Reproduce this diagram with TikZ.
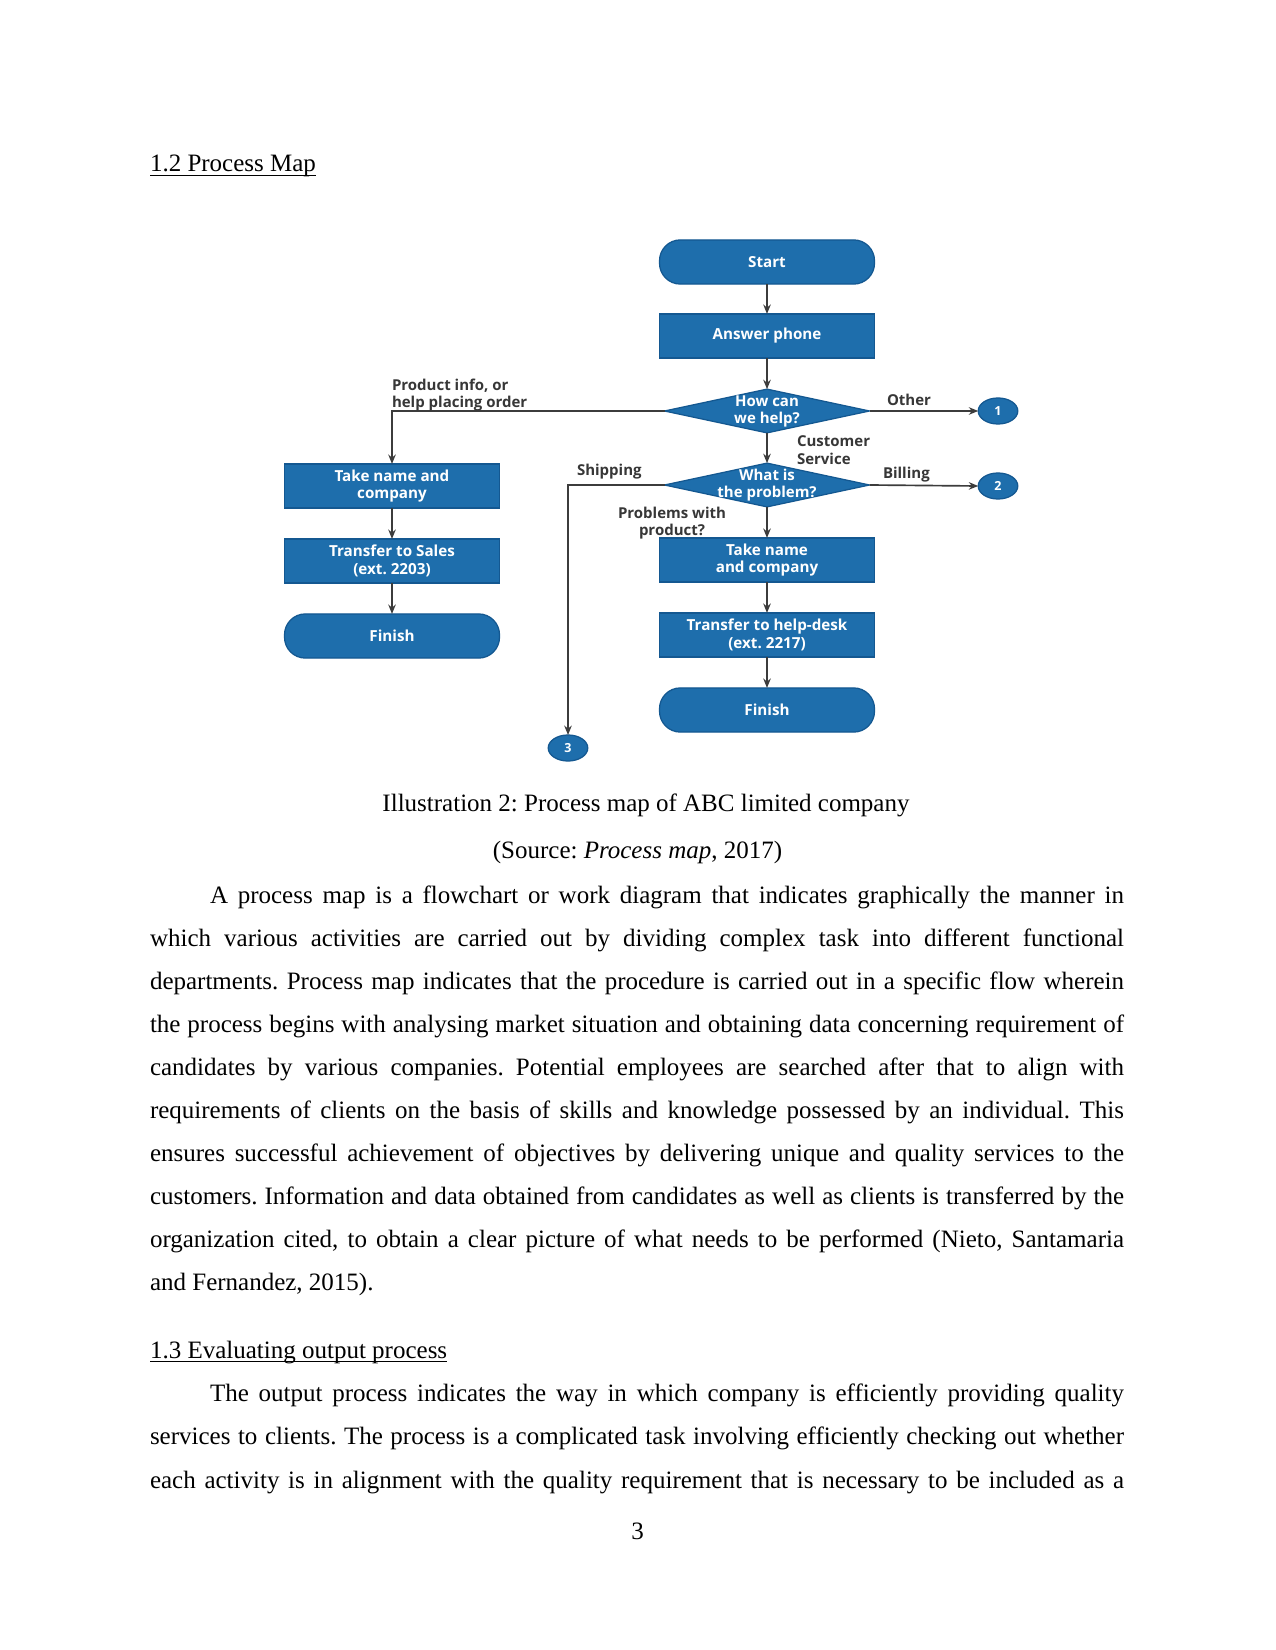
\documentclass[tikz,border=0pt]{standalone}
\usepackage{fontspec}
\setmainfont{Liberation Serif}
\newfontfamily\dfont{Open Sans}
\usetikzlibrary{shapes.geometric,arrows.meta}
\definecolor{boxblue}{RGB}{30,110,172}
\definecolor{boxdark}{RGB}{20,88,145}
\definecolor{lnclr}{RGB}{60,60,60}
\definecolor{lblclr}{RGB}{55,55,55}
\frenchspacing
\begin{document}
\frenchspacing
\begin{tikzpicture}[x=0.48pt,y=-0.48pt,
  every node/.style={inner sep=0pt, outer sep=0pt},
  body/.style={font=\fontsize{12pt}{14.4pt}\selectfont\frenchspacing, anchor=base west},
  ctr/.style={font=\fontsize{12pt}{14.4pt}\selectfont\frenchspacing, anchor=base},
  ulin/.style={line width=0.55pt},
  procbox/.style={draw=boxdark, line width=0.6pt, fill=boxblue, minimum width=103.2pt, minimum height=21.2pt, align=center, text=white, font=\dfont\bfseries\fontsize{7.3pt}{8.4pt}\selectfont},
  termbox/.style={procbox, rounded corners=10pt},
  decbox/.style={diamond, draw=boxdark, line width=0.6pt, fill=boxblue, minimum width=98.4pt, minimum height=21pt},
  dectext/.style={align=center, text=white, font=\dfont\bfseries\fontsize{7.2pt}{8.2pt}\selectfont},
  connbox/.style={ellipse, draw=boxdark, line width=0.6pt, fill=boxblue, minimum width=19pt, minimum height=12.5pt, text=white, font=\dfont\bfseries\fontsize{6pt}{7pt}\selectfont},
  flow/.style={draw=lnclr, line width=0.8pt, -{Stealth[length=4.5pt,width=3.6pt]}},
  lbl/.style={text=lblclr, font=\dfont\bfseries\fontsize{7.2pt}{8.4pt}\selectfont}
]
\useasboundingbox[fill=white] (0,0) rectangle (1275,1650);

% heading
\node[body] (h12) at (150,172) {1.2 Process Map};
\draw[ulin] ([yshift=-1.6pt]h12.base west) -- ([yshift=-1.6pt]h12.base east);

% diagram nodes
\node[termbox] (start) at (767,262) {Start};
\node[procbox] (answer) at (767,336) {Answer phone};
\node[decbox] (help) at (767,411) {};
\node[dectext] (helpt) at (help.center) {How can\\we help?};
\node[decbox] (prob) at (767,485) {};
\node[dectext] (probt) at (prob.center) {What is\\the problem?};
\node[connbox] (c1) at (998,411) {1};
\node[connbox] (c2) at (998,486) {2};
\node[connbox] (c3) at (568,748) {3};
\node[procbox] (takeL) at (392,486) {Take name and\\company};
\node[procbox] (sales) at (392,561) {Transfer to Sales\\(ext. 2203)};
\node[termbox] (finL) at (392,636) {Finish};
\node[procbox] (takeR) at (767,560) {Take name\\and company};
\node[procbox] (desk) at (767,635) {Transfer to help-desk\\(ext. 2217)};
\node[termbox] (finR) at (767,710) {Finish};

% connectors
\draw[flow] (start) -- (answer);
\draw[flow] (answer) -- (help);
\draw[flow] (help) -- (prob);
\draw[flow] (help.west) -| (takeL.north);
\draw[flow] (help.east) -- (c1.west);
\draw[flow] (prob.east) -- (c2.west);
\draw[flow] (prob.west) -| (c3.north);
\draw[flow] (prob) -- (takeR);
\draw[flow] (takeL) -- (sales);
\draw[flow] (sales) -- (finL);
\draw[flow] (takeR) -- (desk);
\draw[flow] (desk) -- (finR);

% connector labels
\node[lbl, anchor=north west, align=left] (lprod) at (392,379) {Product info, or\\help placing order};
\node[lbl, anchor=north west, align=left] (lcust) at (797,436) {Customer\\Service};
\node[lbl, anchor=south west] (lother) at (887,406) {Other};
\node[lbl, anchor=north west] (lbill) at (883,467) {Billing};
\node[lbl, anchor=north west] (lship) at (577,464) {Shipping};
\node[lbl, anchor=north, align=center] (lprobl) at (672,507) {Problems with\\product?};

% caption
\node[ctr] (cap) at (646,811) {Illustration 2: Process map of ABC limited company};
\node[ctr] (src) at (637.5,858) {(Source: \textit{Process map}, 2017)};

% paragraph 1
\node[body] (p1) at (210,903) {\makebox[438.72pt][s]{A process map is a flowchart or work diagram that indicates graphically the manner in}};
\node[body] (p2) at (150,946) {\makebox[467.52pt][s]{which various activities are carried out by dividing complex task into different functional}};
\node[body] (p3) at (150,989) {\makebox[467.52pt][s]{departments. Process map indicates that the procedure is carried out in a specific flow wherein}};
\node[body] (p4) at (150,1032) {\makebox[467.52pt][s]{the process begins with analysing market situation and obtaining data concerning requirement of}};
\node[body] (p5) at (150,1075) {\makebox[467.52pt][s]{candidates by various companies. Potential employees are searched after that to align with}};
\node[body] (p6) at (150,1118) {\makebox[467.52pt][s]{requirements of clients on the basis of skills and knowledge possessed by an individual. This}};
\node[body] (p7) at (150,1161) {\makebox[467.52pt][s]{ensures successful achievement of objectives by delivering unique and quality services to the}};
\node[body] (p8) at (150,1204) {\makebox[467.52pt][s]{customers. Information and data obtained from candidates as well as clients is transferred by the}};
\node[body] (p9) at (150,1247) {\makebox[467.52pt][s]{organization cited, to obtain a clear picture of what needs to be performed (Nieto, Santamaria}};
\node[body] (p10) at (150,1290) {and Fernandez, 2015).};

% heading 1.3
\node[body] (h13) at (150,1358) {1.3 Evaluating output process};
\draw[ulin] ([yshift=-1.6pt]h13.base west) -- ([yshift=-1.6pt]h13.base east);

% paragraph 2
\node[body] (q1) at (210,1401) {\makebox[438.72pt][s]{The output process indicates the way in which company is efficiently providing quality}};
\node[body] (q2) at (150,1444) {\makebox[467.52pt][s]{services to clients. The process is a complicated task involving efficiently checking out whether}};
\node[body] (q3) at (150,1488) {\makebox[467.52pt][s]{each activity is in alignment with the quality requirement that is necessary to be included as a}};

% page number
\node[ctr] (pg) at (637.5,1539) {3};
\end{tikzpicture}
\end{document}
